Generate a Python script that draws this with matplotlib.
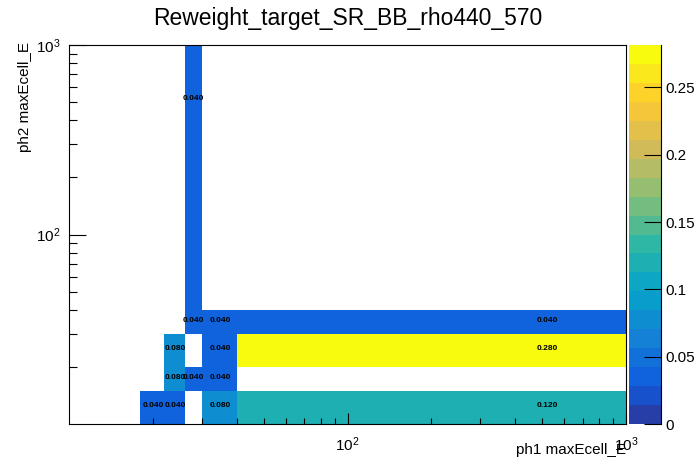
import numpy as np
import matplotlib
matplotlib.use("Agg")
import matplotlib.pyplot as plt
from matplotlib.colors import LinearSegmentedColormap, ListedColormap, BoundaryNorm
from matplotlib.ticker import LogLocator, NullFormatter, FixedLocator

plt.rcParams['font.family'] = ['Liberation Sans', 'DejaVu Sans']
plt.rcParams['mathtext.default'] = 'regular'

# bin edges (only the filled region of the histogram)
x_edges = [18, 22, 26, 30, 40, 1000]
y_edges = [10, 15, 20, 30, 40, 1000]

# bin contents, rows = ph2 bins (bottom -> top), cols = ph1 bins
values = np.array([
    [0.04, 0.04, 0.00, 0.08, 0.12],
    [0.00, 0.08, 0.04, 0.04, 0.00],
    [0.00, 0.08, 0.00, 0.04, 0.28],
    [0.00, 0.00, 0.04, 0.04, 0.04],
    [0.00, 0.00, 0.04, 0.00, 0.00],
])

title = "Reweight_target_SR_BB_rho440_570"
zmax = 0.2815
ncont = 20

# ROOT kBird palette
stops = [0.0, 0.125, 0.25, 0.375, 0.5, 0.625, 0.75, 0.875, 1.0]
red = [0.2082, 0.0592, 0.0780, 0.0232, 0.1802, 0.5301, 0.8186, 0.9956, 0.9764]
green = [0.1664, 0.3599, 0.5041, 0.6419, 0.7178, 0.7492, 0.7328, 0.7862, 0.9832]
blue = [0.5293, 0.8684, 0.8385, 0.7914, 0.6425, 0.4662, 0.3499, 0.1968, 0.0539]
bird = LinearSegmentedColormap.from_list(
    "bird", [(s, (r, g, b)) for s, r, g, b in zip(stops, red, green, blue)], N=255)
cols = [bird(int((i + 0.99) * 255 / ncont) / 254) for i in range(ncont)]
cmap = ListedColormap(cols)
levels = np.linspace(0, zmax, ncont + 1)
norm = BoundaryNorm(levels, ncont)

fig = plt.figure(figsize=(6.96, 4.72), dpi=100)
ax = fig.add_axes([69/696, 1 - 424/472, (626-69)/696, (424-45)/472])

masked = np.ma.masked_where(values == 0, values)
mesh = ax.pcolormesh(x_edges, y_edges, masked, cmap=cmap, norm=norm)

for j in range(len(y_edges) - 1):
    for i in range(len(x_edges) - 1):
        if values[j, i] > 0:
            xc = 0.5 * (x_edges[i] + x_edges[i+1])
            yc = 0.5 * (y_edges[j] + y_edges[j+1])
            ax.text(xc, yc, "%.3f" % values[j, i], ha='center', va='center',
                    fontsize=6, fontweight='bold', color='black')

ax.set_xscale('log')
ax.set_yscale('log')
ax.set_xlim(10, 1000)
ax.set_ylim(10, 1000)
ax.xaxis.set_major_locator(FixedLocator([100, 1000]))
ax.yaxis.set_major_locator(FixedLocator([100, 1000]))
ax.xaxis.set_minor_locator(LogLocator(base=10, subs=np.arange(2, 10), numticks=20))
ax.yaxis.set_minor_locator(LogLocator(base=10, subs=np.arange(2, 10), numticks=20))
ax.set_xticklabels(["$10^{2}$", "$10^{3}$"])
ax.set_yticklabels(["$10^{2}$", "$10^{3}$"])
ax.xaxis.set_minor_formatter(NullFormatter())
ax.yaxis.set_minor_formatter(NullFormatter())
ax.tick_params(axis='x', which='major', direction='in', length=8, width=0.8, labelsize=11, pad=8)
ax.tick_params(axis='x', which='minor', direction='in', length=4, width=0.8)
ax.tick_params(axis='y', which='major', direction='in', length=12, width=0.8, labelsize=11, pad=6)
ax.tick_params(axis='y', which='minor', direction='in', length=6, width=0.8)
for s in ax.spines.values():
    s.set_linewidth(0.8)

fig.text(626/696, 1 - 450/472, "ph1 maxEcell_E", ha='right', va='center', fontsize=11)
fig.text(25/696, 1 - 42/472, "ph2 maxEcell_E", ha='center', va='top', rotation=90, fontsize=11)
fig.text(348/696, 1 - 18/472, title, ha='center', va='center', fontsize=16.5)

cax = fig.add_axes([629/696, 1 - 424/472, (661-629)/696, (424-45)/472])
cbar = fig.colorbar(mesh, cax=cax, ticks=[0, 0.05, 0.1, 0.15, 0.2, 0.25])
cbar.ax.set_yticklabels(["0", "0.05", "0.1", "0.15", "0.2", "0.25"])
cbar.outline.set_visible(False)
cax.plot([1, 1], [0, 1], transform=cax.transAxes, color='k', lw=0.8, clip_on=False)
cax.tick_params(direction='in', length=12, width=0.8, labelsize=11, pad=3)
cax.minorticks_off()

fig.savefig("out.png", dpi=100)
